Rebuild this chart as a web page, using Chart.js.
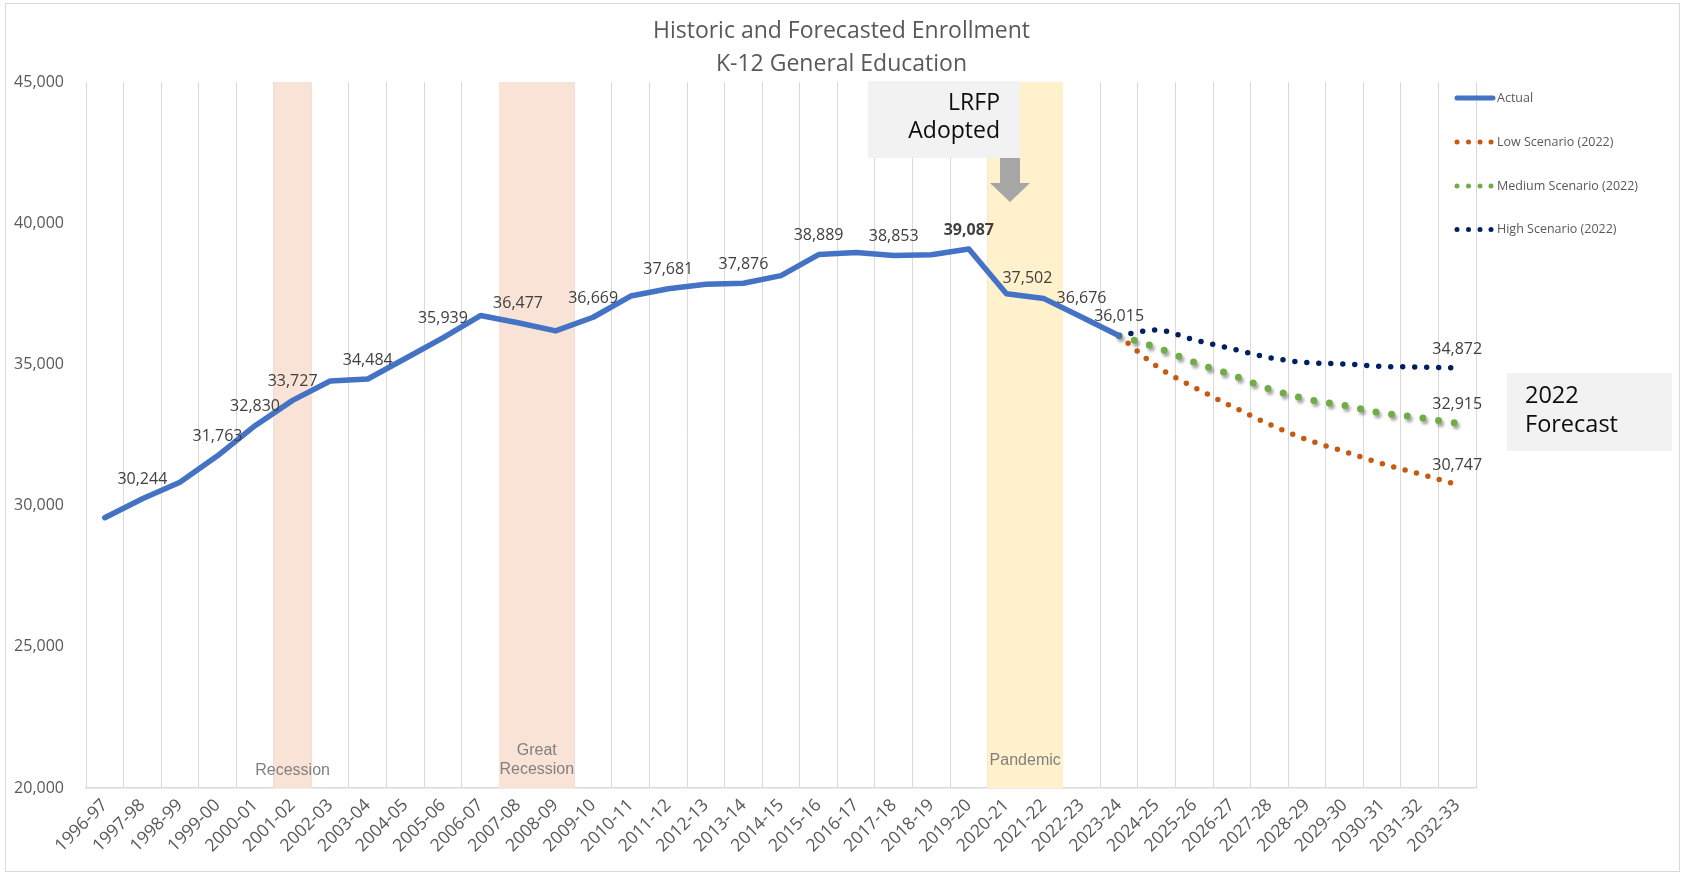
<!DOCTYPE html>
<html><head><meta charset="utf-8">
<script src="https://cdn.jsdelivr.net/npm/chart.js@4/dist/chart.umd.min.js"></script>
<style>html,body{margin:0;padding:0;background:#fff;}canvas{display:block;}</style>
</head><body>
<canvas id="c" width="1683" height="874"></canvas>
<script>
// ---------------- data ----------------
const years = ['1996-97','1997-98','1998-99','1999-00','2000-01','2001-02','2002-03','2003-04','2004-05','2005-06',
  '2006-07','2007-08','2008-09','2009-10','2010-11','2011-12','2012-13','2013-14','2014-15','2015-16',
  '2016-17','2017-18','2018-19','2019-20','2020-21','2021-22','2022-23','2023-24','2024-25','2025-26',
  '2026-27','2027-28','2028-29','2029-30','2030-31','2031-32','2032-33'];
const actual = [29570, 30244, 30830, 31763, 32830, 33727, 34410, 34484, 35210, 35939,
  36730, 36477, 36185, 36669, 37420, 37681, 37835, 37876, 38145, 38889,
  38960, 38853, 38885, 39087, 37502, 37330, 36676, 36015];
// forecasts from 2023-24 to 2032-33
const lowForecast    = [36015, 34933, 34189, 33516, 32879, 32337, 31912, 31487, 31119, 30747];
const mediumForecast = [36015, 35600, 35075, 34630, 34130, 33775, 33545, 33280, 33116, 32915];
const highForecast   = [36015, 36218, 35866, 35555, 35240, 35063, 35015, 34930, 34908, 34872];
// labelled actual years
const labelledYears = ['1997-98','1999-00','2000-01','2001-02','2003-04','2005-06','2007-08','2009-10',
  '2011-12','2013-14','2015-16','2017-18','2019-20','2020-21','2022-23','2023-24'];
const boldLabelYear = '2019-20';
// shaded periods
const recessionYears = ['2001-02'];
const greatRecessionYears = ['2007-08','2008-09'];
const pandemicYears = ['2020-21','2021-22'];
const bandTop = 45000;
const yMin = 20000, yMax = 45000, yStep = 5000;

// ---------------- build ----------------
const startIdx = actual.length - 1;
const padF = arr => years.map((y, i) => (i >= startIdx && i - startIdx < arr.length) ? arr[i - startIdx] : null);
const recessionData = years.map(y => (recessionYears.includes(y) || greatRecessionYears.includes(y)) ? bandTop : null);
const pandemicData = years.map(y => pandemicYears.includes(y) ? bandTop : null);
const fmt = v => v.toLocaleString('en-US');

const FONT = '"Open Sans", "Noto Sans", sans-serif';

const decor = {
  id: 'decor',
  beforeDraw(chart) {
    const ctx = chart.ctx;
    ctx.save();
    ctx.fillStyle = '#fff';
    ctx.fillRect(0, 0, chart.width, chart.height);
    ctx.strokeStyle = '#D9D9D9';
    ctx.lineWidth = 1;
    ctx.strokeRect(5.5, 3.5, 1674, 868);
    // title
    ctx.fillStyle = '#595959';
    ctx.font = '23px ' + FONT;
    ctx.textAlign = 'center';
    ctx.textBaseline = 'middle';
    ctx.fillText('Historic and Forecasted Enrollment', chart.width / 2, 31.5);
    ctx.fillText('K-12 General Education', chart.width / 2, 64);
    ctx.restore();
  },
  beforeDatasetDraw(chart, args) {
    if (chart.data.datasets[args.index].shadow) {
      const ctx = chart.ctx;
      ctx.save();
      ctx.shadowColor = 'rgba(0,0,0,0.35)';
      ctx.shadowOffsetX = 2;
      ctx.shadowOffsetY = 3;
      ctx.shadowBlur = 3;
    }
  },
  afterDatasetDraw(chart, args) {
    if (chart.data.datasets[args.index].shadow) chart.ctx.restore();
  },
  afterDatasetsDraw(chart) {
    const ctx = chart.ctx;
    const xs = chart.scales.x, ys = chart.scales.y;
    const area = chart.chartArea;
    ctx.save();
    // band labels
    ctx.fillStyle = '#808080';
    ctx.font = '16px "Liberation Sans", Arial, sans-serif';
    ctx.textAlign = 'center';
    ctx.textBaseline = 'middle';
    const cx = list => list.map(y => xs.getPixelForValue(years.indexOf(y))).reduce((a, b) => a + b, 0) / list.length;
    ctx.fillText('Recession', cx(recessionYears), area.bottom - 17.5);
    ctx.fillText('Great', cx(greatRecessionYears), area.bottom - 37);
    ctx.fillText('Recession', cx(greatRecessionYears), area.bottom - 18);
    ctx.fillText('Pandemic', cx(pandemicYears), area.bottom - 27);

    // data labels
    ctx.fillStyle = '#404040';
    labelledYears.forEach(y => {
      const i = years.indexOf(y);
      let px = xs.getPixelForValue(i), py = ys.getPixelForValue(actual[i]) - 19;
      if (y === '2020-21') { px += 21; py += 4; }
      ctx.font = (y === boldLabelYear ? 'bold ' : '') + '16px ' + FONT;
      ctx.fillText(fmt(actual[i]), px, py);
    });
    ctx.font = '16px ' + FONT;
    [lowForecast, mediumForecast, highForecast].forEach(arr => {
      const i = startIdx + arr.length - 1;
      ctx.fillText(fmt(arr[arr.length - 1]), xs.getPixelForValue(i), ys.getPixelForValue(arr[arr.length - 1]) - 19);
    });

    // LRFP box and arrow
    ctx.fillStyle = '#F2F2F2';
    ctx.fillRect(868, 81, 152, 77);
    ctx.fillStyle = '#0D0D0D';
    ctx.font = '23px ' + FONT;
    ctx.textAlign = 'right';
    ctx.fillText('LRFP', 1000, 103);
    ctx.fillText('Adopted', 1000, 131);
    ctx.fillStyle = '#A6A6A6';
    ctx.beginPath();
    ctx.moveTo(1000, 158); ctx.lineTo(1020, 158); ctx.lineTo(1020, 183); ctx.lineTo(1030, 183);
    ctx.lineTo(1010, 202); ctx.lineTo(990, 183); ctx.lineTo(1000, 183); ctx.closePath();
    ctx.fill();

    // 2022 Forecast box
    ctx.fillStyle = '#F2F2F2';
    ctx.fillRect(1507, 373, 165, 78);
    ctx.fillStyle = '#0D0D0D';
    ctx.font = '23.5px ' + FONT;
    ctx.textAlign = 'left';
    ctx.fillText('2022', 1525, 396);
    ctx.fillText('Forecast', 1525, 425);

    // legend
    const lx = 1457, tx = 1497;
    const rows = [
      {t: 'Actual', y: 98, c: '#4472C4', solid: true},
      {t: 'Low Scenario (2022)', y: 142, c: '#C55A11'},
      {t: 'Medium Scenario (2022)', y: 186, c: '#70AD47'},
      {t: 'High Scenario (2022)', y: 229.5, c: '#002060'}
    ];
    rows.forEach(r => {
      if (r.solid) {
        ctx.strokeStyle = r.c; ctx.lineWidth = 5; ctx.lineCap = 'round';
        ctx.beginPath(); ctx.moveTo(lx, r.y); ctx.lineTo(lx + 36, r.y); ctx.stroke();
      } else {
        ctx.fillStyle = r.c;
        [0, 11.5, 23, 34].forEach(d => { ctx.beginPath(); ctx.arc(lx + d, r.y, 2.5, 0, Math.PI * 2); ctx.fill(); });
      }
      ctx.fillStyle = '#595959';
      ctx.font = '12.5px ' + FONT;
      ctx.textAlign = 'left';
      ctx.fillText(r.t, tx, r.y);
    });
    ctx.restore();
  }
};

new Chart(document.getElementById('c'), {
  data: {
    labels: years,
    datasets: [
      {type: 'line', label: 'Actual', data: actual, borderColor: '#4472C4', borderWidth: 5.5,
       pointRadius: 0, tension: 0, borderJoinStyle: 'round', borderCapStyle: 'round', order: 1},
      {type: 'line', label: 'Low Scenario (2022)', data: padF(lowForecast), borderColor: '#C55A11', borderWidth: 5.5,
       borderDash: [0, 11.8], borderCapStyle: 'round', pointRadius: 0, cubicInterpolationMode: 'monotone', order: 4},
      {type: 'line', label: 'Medium Scenario (2022)', data: padF(mediumForecast), borderColor: '#70AD47', borderWidth: 7,
       borderDash: [0, 15.8], borderCapStyle: 'round', pointRadius: 0, cubicInterpolationMode: 'monotone', order: 3, shadow: true},
      {type: 'line', label: 'High Scenario (2022)', data: padF(highForecast), borderColor: '#002060', borderWidth: 5.5,
       borderDash: [0, 12], borderCapStyle: 'round', pointRadius: 0, cubicInterpolationMode: 'monotone', order: 2},
      {type: 'bar', label: 'Recessions', data: recessionData, backgroundColor: '#F9E3D6',
       barPercentage: 1, categoryPercentage: 1, grouped: false, order: 10},
      {type: 'bar', label: 'Pandemic', data: pandemicData, backgroundColor: '#FFF1CC',
       barPercentage: 1, categoryPercentage: 1, grouped: false, order: 11}
    ]
  },
  options: {
    responsive: false,
    animation: false,
    devicePixelRatio: 1,
    layout: {padding: {left: 0, right: 207, top: 82, bottom: 0}},
    plugins: {legend: {display: false}, tooltip: {enabled: false}, title: {display: false}},
    scales: {
      x: {
        type: 'category', offset: true,
        grid: {display: true, offset: true, color: '#D9D9D9', lineWidth: 1, drawTicks: false},
        border: {display: true, color: '#D9D9D9', width: 1.5},
        ticks: {autoSkip: false, minRotation: 45, maxRotation: 45, padding: 7, color: '#595959',
                font: {family: FONT, size: 17.5}},
        afterFit: s => { s.height = 86; }
      },
      y: {
        min: yMin, max: yMax,
        grid: {display: false, drawTicks: false},
        border: {display: false},
        ticks: {stepSize: yStep, padding: 22, color: '#595959', font: {family: FONT, size: 16},
                callback: v => fmt(v)},
        afterFit: s => { s.width = 86; }
      }
    }
  },
  plugins: [decor]
});
</script>
</body></html>
